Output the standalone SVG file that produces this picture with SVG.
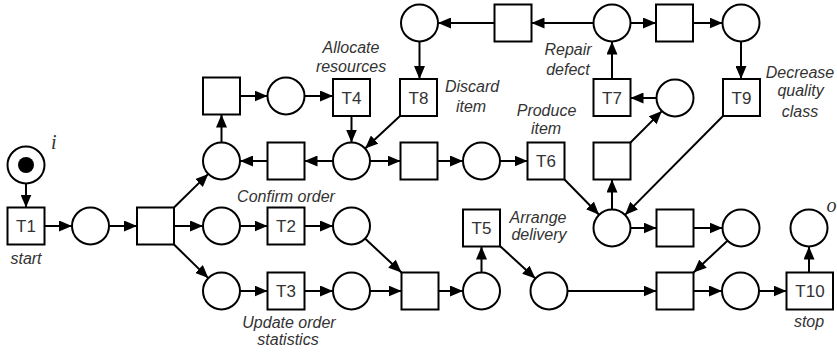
<svg xmlns="http://www.w3.org/2000/svg" width="837" height="354" viewBox="0 0 837 354">
<defs>
<marker id="ah" markerUnits="userSpaceOnUse" markerWidth="13" markerHeight="11" refX="13" refY="5.5" orient="auto">
<path d="M0,0 L13,5.5 L0,11 z" fill="#000"/>
</marker>
<style>
.p{fill:#fff;stroke:#000;stroke-width:2}
.t{fill:#fff;stroke:#000;stroke-width:2}
.e{fill:none;stroke:#000;stroke-width:2;marker-end:url(#ah)}
.lbl{font-family:"Liberation Sans",Arial,sans-serif;font-size:17px;fill:#333;text-anchor:middle}
.it{font-family:"Liberation Sans",Arial,sans-serif;font-size:16px;font-style:italic;fill:#333;text-anchor:middle}
.io{font-family:"Liberation Serif","Times New Roman",serif;font-size:20px;font-style:italic;fill:#333}
</style>
</defs>
<rect width="837" height="354" fill="#fff"/>

<g id="edges">
<line class="e" x1="26" y1="183.5" x2="26" y2="207.5"/>
<line class="e" x1="44.5" y1="226" x2="72" y2="226"/>
<line class="e" x1="109" y1="226" x2="137" y2="226"/>
<line class="e" x1="174" y1="207.5" x2="208.3" y2="173.9"/>
<line class="e" x1="174" y1="226" x2="203" y2="226"/>
<line class="e" x1="174" y1="244.5" x2="208.3" y2="278.1"/>
<line class="e" x1="240" y1="226" x2="267.5" y2="226"/>
<line class="e" x1="304.5" y1="226" x2="333" y2="226"/>
<line class="e" x1="365" y1="238.6" x2="401.5" y2="272.5"/>
<line class="e" x1="240" y1="291" x2="267.5" y2="291"/>
<line class="e" x1="304.5" y1="291" x2="333" y2="291"/>
<line class="e" x1="370" y1="291" x2="401.5" y2="291"/>
<line class="e" x1="438.5" y1="291" x2="463" y2="291"/>
<line class="e" x1="481.5" y1="272.5" x2="481.5" y2="246.5"/>
<line class="e" x1="500.5" y1="246.5" x2="535.4" y2="278.5"/>
<line class="e" x1="567.5" y1="291" x2="656.5" y2="291"/>
<line class="e" x1="727.5" y1="240.7" x2="693.5" y2="272.5"/>
<line class="e" x1="693.5" y1="291" x2="722" y2="291"/>
<line class="e" x1="759" y1="291" x2="786.5" y2="291"/>
<line class="e" x1="809" y1="272.5" x2="809" y2="246.5"/>
<line class="e" x1="221.5" y1="142.5" x2="221.5" y2="114.5"/>
<line class="e" x1="240" y1="96" x2="267.5" y2="96"/>
<line class="e" x1="304.5" y1="96" x2="333" y2="96"/>
<line class="e" x1="351.5" y1="116" x2="351.5" y2="142.5"/>
<line class="e" x1="400" y1="116" x2="365.1" y2="148.4"/>
<line class="e" x1="333" y1="161" x2="304.5" y2="161"/>
<line class="e" x1="267.5" y1="161" x2="240" y2="161"/>
<line class="e" x1="370" y1="161" x2="400.5" y2="161"/>
<line class="e" x1="437.5" y1="161" x2="463" y2="161"/>
<line class="e" x1="500" y1="161" x2="527.5" y2="161"/>
<line class="e" x1="564.5" y1="179.5" x2="599.1" y2="214.8"/>
<line class="e" x1="723" y1="116" x2="625" y2="214.9"/>
<line class="e" x1="612" y1="209.5" x2="612" y2="179.5"/>
<line class="e" x1="630.5" y1="142.5" x2="661.9" y2="111.1"/>
<line class="e" x1="656.5" y1="98" x2="630.5" y2="98"/>
<line class="e" x1="612" y1="79" x2="612" y2="41.5"/>
<line class="e" x1="593.5" y1="23" x2="531.5" y2="23"/>
<line class="e" x1="494.5" y1="23" x2="438" y2="23"/>
<line class="e" x1="419.5" y1="41.5" x2="419.5" y2="79"/>
<line class="e" x1="630.5" y1="23" x2="656" y2="23"/>
<line class="e" x1="693" y1="23" x2="722.5" y2="23"/>
<line class="e" x1="741" y1="41.5" x2="741" y2="79"/>
<line class="e" x1="630.5" y1="228" x2="656.5" y2="228"/>
<line class="e" x1="693.5" y1="228" x2="722.5" y2="228"/>
</g>

<g id="p_i"><circle class="p" cx="26" cy="165" r="18.5"/><circle cx="26" cy="165" r="8" fill="#000"/><text class="io" x="51" y="149">i</text></g>
<g id="T1"><rect class="t" x="7.5" y="207.5" width="37" height="37"/><text class="lbl" x="26" y="232">T1</text><text class="it" x="26" y="264">start</text></g>
<g id="p1"><circle class="p" cx="90.5" cy="226" r="18.5"/></g>
<g id="split"><rect class="t" x="137" y="207.5" width="37" height="37"/></g>
<g id="p2"><circle class="p" cx="221.5" cy="161" r="18.5"/></g>
<g id="p3"><circle class="p" cx="221.5" cy="226" r="18.5"/></g>
<g id="p4"><circle class="p" cx="221.5" cy="291" r="18.5"/></g>
<g id="T2"><rect class="t" x="267.5" y="207.5" width="37" height="37"/><text class="lbl" x="286" y="232">T2</text><text class="it" x="286" y="201.5">Confirm order</text></g>
<g id="T3"><rect class="t" x="267.5" y="272.5" width="37" height="37"/><text class="lbl" x="286" y="297">T3</text><text class="it" x="289" y="328">Update order</text><text class="it" x="288" y="345">statistics</text></g>
<g id="p5"><circle class="p" cx="351.5" cy="226" r="18.5"/></g>
<g id="p6"><circle class="p" cx="351.5" cy="291" r="18.5"/></g>
<g id="join"><rect class="t" x="401.5" y="272.5" width="37" height="37"/></g>
<g id="p7"><circle class="p" cx="481.5" cy="291" r="18.5"/></g>
<g id="T5"><rect class="t" x="463" y="209.5" width="37" height="37"/><text class="lbl" x="481.5" y="234">T5</text><text class="it" x="538" y="222.5">Arrange</text><text class="it" x="539" y="240">delivery</text></g>
<g id="p8"><circle class="p" cx="549" cy="291" r="18.5"/></g>
<g id="join2"><rect class="t" x="656.5" y="272.5" width="37" height="37"/></g>
<g id="p9"><circle class="p" cx="740.5" cy="291" r="18.5"/></g>
<g id="T10"><rect class="t" x="786.5" y="272.5" width="46.5" height="37"/><text class="lbl" x="810" y="297">T10</text><text class="it" x="809" y="327">stop</text></g>
<g id="p_o"><circle class="p" cx="809" cy="228" r="18.5"/><text class="io" x="826.5" y="211.5">o</text></g>

<g id="b1"><rect class="t" x="203" y="77.5" width="37" height="37"/></g>
<g id="p10"><circle class="p" cx="286" cy="96" r="18.5"/></g>
<g id="T4"><rect class="t" x="333" y="79" width="37" height="37"/><text class="lbl" x="351.5" y="103.5">T4</text><text class="it" x="351" y="52.5">Allocate</text><text class="it" x="351" y="71.5">resources</text></g>
<g id="p11"><circle class="p" cx="351.5" cy="161" r="18.5"/></g>
<g id="b2"><rect class="t" x="267.5" y="142.5" width="37" height="37"/></g>
<g id="b3"><rect class="t" x="400.5" y="142.5" width="37" height="37"/></g>
<g id="p12"><circle class="p" cx="481.5" cy="161" r="18.5"/></g>
<g id="T6"><rect class="t" x="527.5" y="142.5" width="37" height="37"/><text class="lbl" x="546" y="167">T6</text><text class="it" x="546.5" y="115.5">Produce</text><text class="it" x="546" y="133.5">item</text></g>
<g id="T8"><rect class="t" x="400" y="79" width="37" height="37"/><text class="lbl" x="418.5" y="103.5">T8</text><text class="it" x="472" y="92">Discard</text><text class="it" x="471" y="111.5">item</text></g>
<g id="p13"><circle class="p" cx="419.5" cy="23" r="18.5"/></g>
<g id="b4"><rect class="t" x="494.5" y="4.5" width="37" height="37"/></g>
<g id="p14"><circle class="p" cx="612" cy="23" r="18.5"/></g>
<g id="b5"><rect class="t" x="656" y="4.5" width="37" height="37"/></g>
<g id="p15"><circle class="p" cx="741" cy="23" r="18.5"/></g>
<g id="T7"><rect class="t" x="593.5" y="79" width="37" height="37"/><text class="lbl" x="612" y="103.5">T7</text><text class="it" x="568" y="55">Repair</text><text class="it" x="568" y="75">defect</text></g>
<g id="p16"><circle class="p" cx="675" cy="98" r="18.5"/></g>
<g id="T9"><rect class="t" x="723" y="79" width="37" height="37"/><text class="lbl" x="741.5" y="103.5">T9</text><text class="it" x="800" y="77.5">Decrease</text><text class="it" x="800.5" y="96">quality</text><text class="it" x="800" y="116.5">class</text></g>
<g id="b6"><rect class="t" x="593.5" y="142.5" width="37" height="37"/></g>
<g id="p17"><circle class="p" cx="612" cy="228" r="18.5"/></g>
<g id="b7"><rect class="t" x="656.5" y="209.5" width="37" height="37"/></g>
<g id="p18"><circle class="p" cx="741" cy="228" r="18.5"/></g>
</svg>
